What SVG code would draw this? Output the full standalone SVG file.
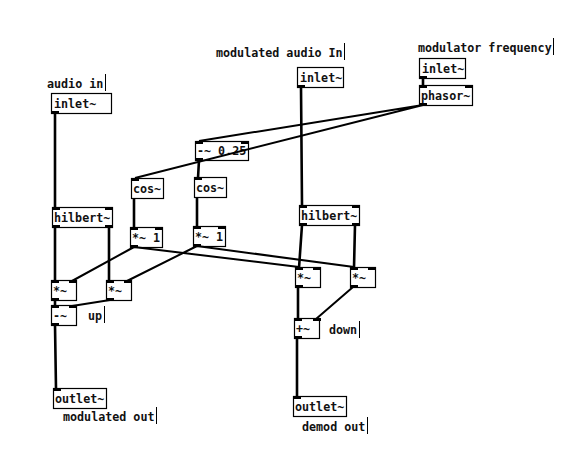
<svg xmlns="http://www.w3.org/2000/svg" width="572" height="468" viewBox="0 0 572 468">
<defs><style>
text{font-family:"DejaVu Sans Mono","Liberation Mono",monospace;font-weight:bold;font-size:11.7px;fill:#111}
.b{fill:#fff;stroke:#000;stroke-width:1.2}
.t{fill:#000}
.w{stroke:#000;stroke-width:2.6;fill:none}
.d{stroke:#000;stroke-width:2;fill:none}
.c{stroke:#000;stroke-width:1}
</style>
<rect id="tab" class="t" width="8" height="3"/>
</defs>
<rect width="572" height="468" fill="#fff"/>
<g id="labels">
<text x="47" y="88">audio in</text><path class="c" d="M105.5 74V91"/>
<text x="216" y="57">modulated audio In</text><path class="c" d="M344.5 43V60"/>
<text x="418" y="52">modulator frequency</text><path class="c" d="M553.5 38V55"/>
<text x="88" y="320">up</text><path class="c" d="M104.5 306V323"/>
<text x="329" y="334">down</text><path class="c" d="M359.5 321V338"/>
<text x="63" y="421">modulated out</text><path class="c" d="M156.5 407V424"/>
<text x="302" y="431">demod out</text><path class="c" d="M367.5 417V434"/>
</g>
<g id="inlet1"><rect class="b" x="51.5" y="93.5" width="60" height="20"/><text x="54" y="108">inlet~</text><use href="#tab" x="51" y="111"/></g>
<g id="inlet2"><rect class="b" x="297.5" y="67.5" width="46" height="20"/><text x="300" y="82">inlet~</text><use href="#tab" x="297" y="85"/></g>
<g id="inlet3"><rect class="b" x="419.5" y="58.5" width="46" height="20"/><text x="422" y="73">inlet~</text><use href="#tab" x="419" y="76"/></g>
<g id="phasor"><rect class="b" x="419.5" y="85.5" width="53" height="20"/><text x="421" y="100">phasor~</text><use href="#tab" x="419" y="85"/><use href="#tab" x="465" y="85"/><use href="#tab" x="419" y="103"/></g>
<g id="minus025"><rect class="b" x="195.5" y="141.5" width="53" height="19"/><text x="197" y="155">-~ 0.25</text><use href="#tab" x="195" y="141"/><use href="#tab" x="241" y="141"/><use href="#tab" x="195" y="158"/></g>
<g id="cos1"><rect class="b" x="131.5" y="178.5" width="32" height="20"/><text x="133" y="193">cos~</text><use href="#tab" x="131" y="178"/></g>
<g id="cos2"><rect class="b" x="194.5" y="177.5" width="32" height="20"/><text x="196" y="192">cos~</text><use href="#tab" x="194" y="177"/></g>
<g id="hilbert1"><rect class="b" x="52.5" y="207.5" width="60" height="20"/><text x="54" y="222">hilbert~</text><use href="#tab" x="52" y="207"/><use href="#tab" x="105" y="207"/><use href="#tab" x="52" y="225"/><use href="#tab" x="105" y="225"/></g>
<g id="hilbert2"><rect class="b" x="299.5" y="205.5" width="60" height="20"/><text x="301" y="220">hilbert~</text><use href="#tab" x="299" y="205"/><use href="#tab" x="352" y="205"/><use href="#tab" x="299" y="223"/><use href="#tab" x="352" y="223"/></g>
<g id="mul1a"><rect class="b" x="130.5" y="227.5" width="32" height="20"/><text x="132" y="242">*~ 1</text><use href="#tab" x="130" y="227"/><use href="#tab" x="155" y="227"/><use href="#tab" x="130" y="245"/></g>
<g id="mul1b"><rect class="b" x="193.5" y="226.5" width="32" height="20"/><text x="195" y="241">*~ 1</text><use href="#tab" x="193" y="226"/><use href="#tab" x="218" y="226"/><use href="#tab" x="193" y="244"/></g>
<g id="mulL1"><rect class="b" x="51.5" y="280.5" width="25" height="20"/><text x="53" y="295">*~</text><use href="#tab" x="51" y="280"/><use href="#tab" x="69" y="280"/><use href="#tab" x="51" y="298"/></g>
<g id="mulL2"><rect class="b" x="106.5" y="280.5" width="25" height="20"/><text x="108" y="295">*~</text><use href="#tab" x="106" y="280"/><use href="#tab" x="124" y="280"/><use href="#tab" x="106" y="298"/></g>
<g id="minus"><rect class="b" x="51.5" y="305.5" width="25" height="20"/><text x="53" y="320">-~</text><use href="#tab" x="51" y="305"/><use href="#tab" x="69" y="305"/><use href="#tab" x="51" y="323"/></g>
<g id="outlet1"><rect class="b" x="53.5" y="388.5" width="53" height="20"/><text x="55" y="403">outlet~</text><use href="#tab" x="53" y="388"/></g>
<g id="mulR1"><rect class="b" x="295.5" y="267.5" width="25" height="20"/><text x="297" y="282">*~</text><use href="#tab" x="295" y="267"/><use href="#tab" x="313" y="267"/><use href="#tab" x="295" y="285"/></g>
<g id="mulR2"><rect class="b" x="350.5" y="267.5" width="25" height="20"/><text x="352" y="282">*~</text><use href="#tab" x="350" y="267"/><use href="#tab" x="368" y="267"/><use href="#tab" x="350" y="285"/></g>
<g id="plus"><rect class="b" x="294.5" y="318.5" width="25" height="20"/><text x="296" y="333">+~</text><use href="#tab" x="294" y="318"/><use href="#tab" x="313" y="318"/><use href="#tab" x="294" y="336"/></g>
<g id="outlet2"><rect class="b" x="293.5" y="396.5" width="53" height="20"/><text x="295" y="411">outlet~</text><use href="#tab" x="293" y="396"/></g>
<g id="connectors">
<path class="w" d="M55 113V208M55 227V281M109 227V281M301 87L302 205M423 78V85M199 160L198 178M134 198V228M197 197V227M55 300V306M55 325L56 389M302 225L299 268M355 225L354 268M298 287V319M297 338V397"/>
<path class="d" d="M423 105L199 141M423 105L135 178M134 247L72 281M134 247L299 267M197 246L127 281M197 246L354 267M110 300L72 306M353 287L316 319"/>
</g>
</svg>
